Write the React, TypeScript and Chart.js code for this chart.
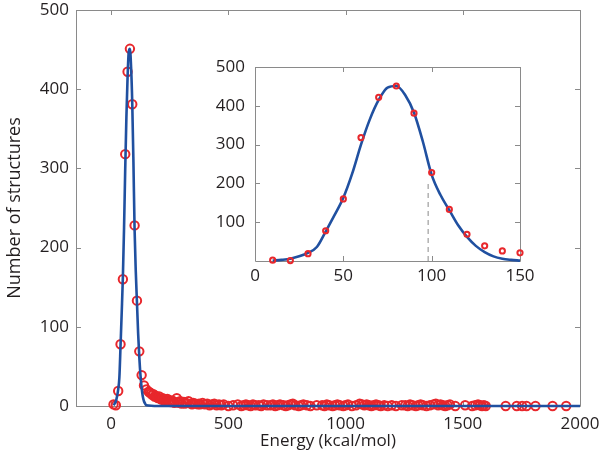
import { useEffect, useRef } from 'react';
import { Chart, registerables } from 'chart.js';
Chart.register(...registerables);

// Histogram points shown in the inset (energy in kcal/mol, number of structures)
const insetEnergy = [10, 20, 30, 40, 50, 60, 70, 80, 90, 100, 110, 120, 130, 140, 150];
const insetCount = [2, 1, 19, 78, 160, 318, 422, 451, 381, 228, 133, 69, 39, 26, 21];

// Remaining histogram points of the main chart
const tailEnergy = [
  160, 165, 170, 175, 180, 185, 190, 195, 200, 205, 210, 215, 220, 225, 230, 235, 240, 245, 250, 255,
  260, 265, 270, 280, 285, 290, 295, 300, 310, 315, 320, 330, 340, 345, 350, 360, 370, 375, 380, 390,
  400, 410, 420, 430, 440, 450, 460, 470, 480, 500, 520, 540, 555, 565, 575, 585, 595, 605, 615, 630,
  640, 650, 665, 680, 690, 700, 710, 720, 735, 745, 755, 765, 775, 785, 800, 810, 820, 835, 850, 877,
  900, 910, 920, 930, 945, 955, 965, 975, 990, 1000, 1010, 1027, 1045, 1060, 1070, 1080, 1090, 1100, 1110, 1120,
  1130, 1140, 1150, 1165, 1180, 1197, 1215, 1240, 1255, 1265, 1275, 1285, 1300, 1310, 1320, 1330, 1345, 1360, 1375, 1385,
  1395, 1405, 1415, 1425, 1435, 1445, 1468, 1510, 1540, 1553, 1565, 1574, 1582, 1590, 1598, 1683, 1730, 1753, 1772, 1810,
  1883, 1941,
];
const tailCount = [
  18, 17, 16, 14, 15, 12, 13, 11, 10, 12, 9, 8, 10, 7, 8, 6, 9, 7, 6, 5,
  7, 5, 4, 10, 5, 4, 6, 3, 5, 3, 4, 6, 3, 2, 4, 3, 2, 3, 2, 4,
  2, 3, 1, 2, 3, 1, 2, 1, 2, 0, 1, 2, 0, 1, 2, 1, 0, 2, 1, 1,
  0, 2, 1, 1, 2, 0, 1, 2, 1, 0, 1, 2, 3, 1, 0, 1, 2, 1, 0, 1,
  1, 0, 2, 1, 0, 1, 2, 1, 0, 1, 2, 0, 1, 3, 2, 1, 2, 1, 0, 1,
  2, 1, 0, 1, 0, 1, 0, 1, 1, 0, 2, 1, 0, 1, 2, 1, 0, 1, 2, 3,
  1, 2, 1, 0, 1, 2, 0, 1, 0, 1, 2, 1, 0, 1, 0, 0, 0, 0, 0, 0,
  0, 0,
];

// Fitted curve
const fitEnergy = [10, 15, 20, 25, 30, 35, 40, 45, 50, 55, 60, 65, 70, 75, 80, 85, 90, 95, 100, 105, 110, 115, 120, 125, 130, 135, 140, 145, 150];
const fitCount = [1, 3, 6, 12, 21, 36, 76, 118, 163, 225, 300, 365, 415, 447, 451, 428, 382, 308, 222, 170, 131, 92, 62, 39, 23, 12, 6, 3, 1];
const fitTailEnergy = [200, 2000];
const fitTailCount = [0, 0];

// Dashed cut-off marker in the inset
const cutoffEnergy = [98, 98];
const cutoffCount = [0, 208];

// Tick values
const mainXTicks = [0, 500, 1000, 1500, 2000];
const mainYTicks = [0, 100, 200, 300, 400, 500];
const insetXTicks = [0, 50, 100, 150];
const insetYTicks = [100, 200, 300, 400, 500];

const RED = '#e8272c';
const BLUE = '#2050a0';
const FONT = "'Open Sans', 'DejaVu Sans', sans-serif";
const TEXT = '#231f20';

const zip = (xs: number[], ys: number[]) => xs.map((x, i) => ({ x, y: ys[i] }));
const plain = (v: any) => String(Math.round(v));

const framePlugin = {
  id: 'frame',
  beforeDatasetsDraw(chart: any) {
    const { ctx, chartArea, scales } = chart;
    const { left, right, top, bottom } = chartArea;
    const len = 5;
    ctx.save();
    ctx.strokeStyle = '#8a8a8a';
    ctx.lineWidth = 1;
    ctx.beginPath();
    ctx.rect(Math.round(left) + 0.5, Math.round(top) + 0.5, Math.round(right - left), Math.round(bottom - top));
    scales.x.ticks.forEach((t: any) => {
      const px = Math.round(scales.x.getPixelForValue(t.value)) + 0.5;
      ctx.moveTo(px, bottom);
      ctx.lineTo(px, bottom - len);
      ctx.moveTo(px, top);
      ctx.lineTo(px, top + len);
    });
    scales.y.ticks.forEach((t: any) => {
      const py = Math.round(scales.y.getPixelForValue(t.value)) + 0.5;
      ctx.moveTo(left, py);
      ctx.lineTo(left + len, py);
      ctx.moveTo(right, py);
      ctx.lineTo(right - len, py);
    });
    ctx.stroke();
    ctx.restore();
  },
};

// Writes the inset's x tick labels at the positions given by its x scale
const insetXLabelPlugin = {
  id: 'insetXLabels',
  afterDraw(chart: any) {
    const { ctx, chartArea, scales } = chart;
    ctx.save();
    ctx.font = `17px ${FONT}`;
    ctx.fillStyle = TEXT;
    ctx.textAlign = 'center';
    ctx.textBaseline = 'middle';
    scales.x.ticks.forEach((t: any) => {
      ctx.fillText(plain(t.value), scales.x.getPixelForValue(t.value), chartArea.bottom + 15);
    });
    ctx.restore();
  },
};

const fitX = (h: number) => (s: any) => { s.height = h; s.paddingLeft = 0; s.paddingRight = 0; };
const fitY = (w: number) => (s: any) => { s.width = w; s.paddingTop = 0; s.paddingBottom = 0; };

export default function App() {
  const mainRef = useRef<HTMLCanvasElement>(null);
  const insetRef = useRef<HTMLCanvasElement>(null);

  useEffect(() => {
    const tickFont = { family: FONT, size: 17 };
    const titleFont = { family: FONT, size: 17 };

    const main = new Chart(mainRef.current!, {
      type: 'scatter',
      data: {
        datasets: [
          {
            data: [...zip(fitEnergy, fitCount), ...zip(fitTailEnergy, fitTailCount)],
            showLine: true,
            borderColor: BLUE,
            borderWidth: 2.6,
            pointRadius: 0,
            cubicInterpolationMode: 'monotone',
            clip: false,
          } as any,
          {
            data: [...zip(insetEnergy, insetCount), ...zip(tailEnergy, tailCount)],
            showLine: false,
            borderColor: RED,
            backgroundColor: 'rgba(0,0,0,0)',
            borderWidth: 2,
            pointRadius: 4.2,
            clip: false,
          } as any,
        ],
      },
      options: {
        responsive: false,
        animation: false,
        devicePixelRatio: 1,
        layout: { padding: { top: 10, right: 20, left: 0, bottom: 0 } },
        plugins: { legend: { display: false }, tooltip: { enabled: false } },
        scales: {
          x: {
            type: 'linear',
            min: -150,
            max: 2000,
            afterBuildTicks: (s: any) => { s.ticks = mainXTicks.map((v) => ({ value: v })); },
            afterFit: fitX(54),
            grid: { display: false, drawTicks: false },
            border: { display: false },
            ticks: { font: tickFont, color: TEXT, padding: 8, maxRotation: 0, autoSkip: false, callback: plain },
            title: { display: true, text: 'Energy (kcal/mol)', font: titleFont, color: TEXT, padding: { top: 0, bottom: 9 } },
          },
          y: {
            type: 'linear',
            min: 0,
            max: 500,
            afterBuildTicks: (s: any) => { s.ticks = mainYTicks.map((v) => ({ value: v })); },
            afterFit: fitY(76),
            grid: { display: false, drawTicks: false },
            border: { display: false },
            ticks: { font: tickFont, color: TEXT, padding: 7, autoSkip: false, callback: plain },
            title: { display: true, text: 'Number of structures', font: { family: FONT, size: 18 }, color: TEXT, padding: { top: 4, bottom: 0 } },
          },
        },
      } as any,
      plugins: [framePlugin],
    });

    const inset = new Chart(insetRef.current!, {
      type: 'scatter',
      data: {
        datasets: [
          {
            data: zip(insetEnergy, insetCount),
            showLine: false,
            borderColor: RED,
            backgroundColor: 'rgba(0,0,0,0)',
            borderWidth: 2,
            pointRadius: 2.6,
            clip: false,
          } as any,
          {
            data: zip(fitEnergy, fitCount),
            showLine: true,
            borderColor: BLUE,
            borderWidth: 2.6,
            pointRadius: 0,
            cubicInterpolationMode: 'monotone',
            clip: false,
          } as any,
          {
            data: zip(cutoffEnergy, cutoffCount),
            showLine: true,
            borderColor: '#8a8a8a',
            borderWidth: 1,
            borderDash: [5, 4],
            pointRadius: 0,
          } as any,
        ],
      },
      options: {
        responsive: false,
        animation: false,
        devicePixelRatio: 1,
        layout: { padding: { top: 17, right: 15, left: 0, bottom: 0 } },
        plugins: { legend: { display: false }, tooltip: { enabled: false } },
        scales: {
          x: {
            type: 'linear',
            min: 0,
            max: 150,
            afterBuildTicks: (s: any) => { s.ticks = insetXTicks.map((v) => ({ value: v })); },
            afterFit: fitX(29),
            grid: { display: false, drawTicks: false },
            border: { display: false },
            ticks: { display: false, font: tickFont, autoSkip: false },
          },
          y: {
            type: 'linear',
            min: 0,
            max: 500,
            afterBuildTicks: (s: any) => { s.ticks = insetYTicks.map((v) => ({ value: v })); },
            afterFit: fitY(60),
            grid: { display: false, drawTicks: false },
            border: { display: false },
            ticks: { font: tickFont, color: TEXT, padding: 10, autoSkip: false, callback: plain },
          },
        },
      } as any,
      plugins: [framePlugin, insetXLabelPlugin],
    });

    return () => {
      main.destroy();
      inset.destroy();
    };
  }, []);

  return (
    <div style={{ position: 'absolute', left: 0, top: 0, width: 600, height: 460, background: '#fff' }}>
      <canvas ref={mainRef} width={600} height={460} style={{ position: 'absolute', left: 0, top: 0 }} />
      <canvas ref={insetRef} width={340} height={240} style={{ position: 'absolute', left: 195, top: 50 }} />
    </div>
  );
}
